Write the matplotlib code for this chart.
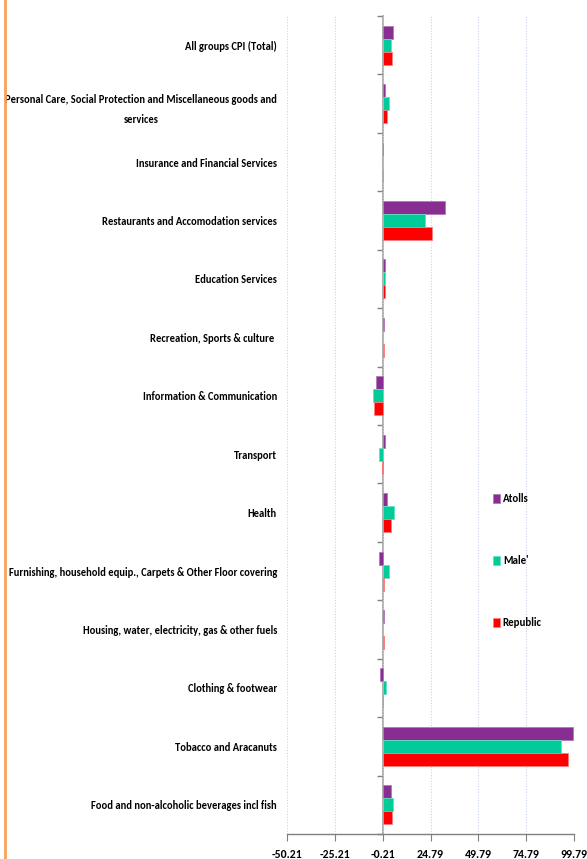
import matplotlib
matplotlib.use("Agg")
import matplotlib.pyplot as plt
import numpy as np
from matplotlib.lines import Line2D

categories = [
    "All groups CPI (Total)",
    "Personal Care, Social Protection and Miscellaneous goods and\nservices",
    "Insurance and Financial Services",
    "Restaurants and Accomodation services",
    "Education Services",
    "Recreation, Sports & culture ",
    "Information & Communication",
    "Transport",
    "Health",
    "Furnishing, household equip., Carpets & Other Floor covering",
    "Housing, water, electricity, gas & other fuels",
    "Clothing & footwear",
    "Tobacco and Aracanuts",
    "Food and non-alcoholic beverages incl fish",
]
atolls   = [5.3, 0.8, 0.1, 32.5, 0.9, 0.5, -3.9, 0.8, 2.0, -2.1, 0.3, -1.4, 99.3, 4.2]
male     = [4.1, 2.9, 0.1, 21.7, 1.2, 0.2, -5.1, -1.9, 5.5, 3.3, 0.2, 1.4, 93.2, 5.4]
republic = [4.7, 1.8, 0.2, 25.4, 0.8, 0.3, -4.6, -0.3, 4.0, 0.7, 0.3, 0.2, 96.5, 4.9]
series_names = ["Atolls", "Male'", "Republic"]
colors = ["#882D91", "#00CC99", "#FF0000"]
edge_colors = ["#B27AB8", "#66E0C2", "#FF8080"]
xticks = [-50.21, -25.21, -0.21, 24.79, 49.79, 74.79, 99.79]

fontfam = ["Carlito", "DejaVu Sans"]
plt.rcParams["font.family"] = fontfam

fig = plt.figure(figsize=(5.87, 8.59), dpi=100)
ax = fig.add_axes([287/587, 1 - 834/859, (574-287)/587, (834-16)/859])

y = np.arange(len(categories))
h = 0.222
for i, (vals, c, ec, name) in enumerate(zip([atolls, male, republic], colors, edge_colors, series_names)):
    ax.barh(y + (i - 1) * h, vals, height=h, color=c, edgecolor=ec, linewidth=0.6, label=name, zorder=3)

ax.set_ylim(len(categories) - 0.5, -0.5)
ax.set_xlim(xticks[0], xticks[-1])
ax.set_xticks(xticks)
ax.set_xticklabels([f"{t:.2f}" for t in xticks], fontsize=8.5, fontweight="bold")
ax.tick_params(axis="x", length=5, color="#808080", pad=6)
ax.set_yticks(y)
ax.set_yticklabels(categories, fontsize=7.6, fontweight="bold")
for lbl in ax.get_yticklabels():
    lbl.set_multialignment("center")
    lbl.set_linespacing(2.0)
ax.tick_params(axis="y", length=0, pad=7.2)

for s in ["top", "right", "left"]:
    ax.spines[s].set_visible(False)
ax.spines["bottom"].set_color("#808080")
ax.spines["bottom"].set_linewidth(1.0)

ax.grid(axis="x", linestyle=(0, (1, 1.5)), color="#C9D3E8", linewidth=0.8, zorder=0)
ax.set_axisbelow(True)

# zero axis with category boundary ticks
sec = ax.secondary_yaxis(0, transform=ax.transData)
sec.set_yticks(np.arange(len(categories) + 1) - 0.5)
sec.set_yticklabels([])
sec.tick_params(length=4, color="#808080", width=1)
sec.spines["left"].set_color("#A0A0A0")
sec.spines["left"].set_linewidth(1.2)

ax.legend(loc="upper left", bbox_to_anchor=((493-287)/287, 1 - (493-16)/818),
          frameon=False, prop={"weight": "bold", "size": 7.8, "family": fontfam},
          handlelength=0.6, handleheight=0.9, handletextpad=0.3, labelspacing=4.7,
          borderaxespad=0, borderpad=0)

# orange left border
fig.add_artist(Line2D([5/587, 5/587], [0, 1], color="#F7A25A", linewidth=2.0, transform=fig.transFigure))

fig.savefig("out.png", dpi=100)
